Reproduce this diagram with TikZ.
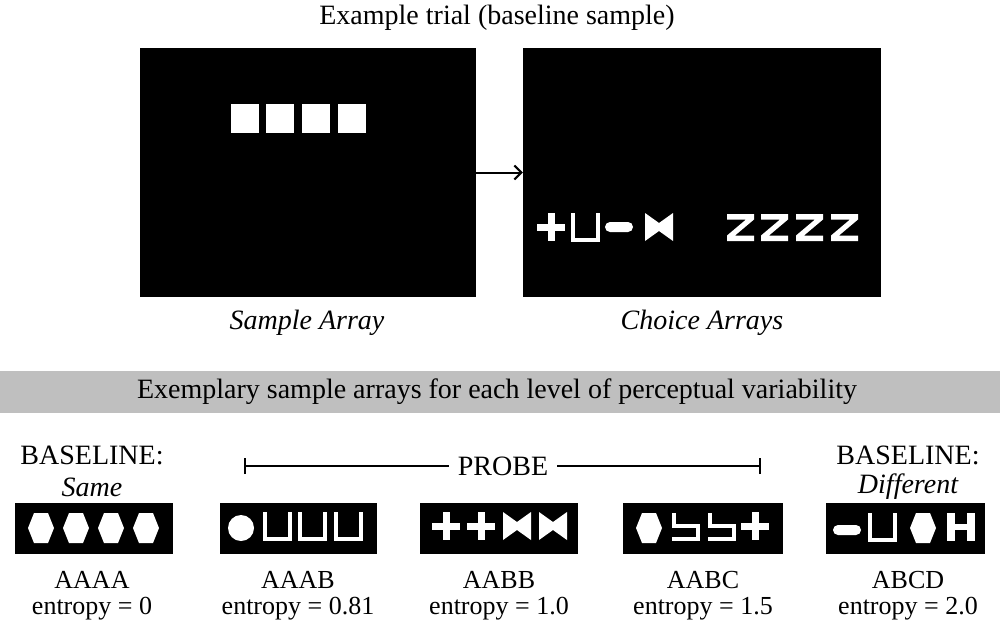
\documentclass[tikz,border=0pt]{standalone}
\usepackage{fontspec}
\setmainfont{Liberation Serif}
\usetikzlibrary{arrows.meta}
\begin{document}
\begin{tikzpicture}[x=1pt,y=-1pt,
  txt/.style={font=\fontsize{28}{32}\selectfont, inner sep=0pt},
  btxt/.style={font=\fontsize{26}{30}\selectfont, inner sep=0pt},
  screen/.style={fill=black, draw=none, inner sep=0pt},
  strip/.style={fill=black, draw=none, inner sep=0pt, minimum height=51pt},
  hexa/.pic={\fill[white] (0,15)--(6,0)--(20,0)--(26,15)--(20,30)--(6,30)--cycle;},
  plusg/.pic={\fill[white] (0,10.5) rectangle (28,17.5); \fill[white] (10.5,0) rectangle (17.5,28);},
  ug/.pic={\draw[white,line width=4pt] (2,0)--(2,27)--(27,27)--(27,0);},
  pill/.pic={\fill[white,rounded corners=5pt] (0,0) rectangle (28,10);},
  bow/.pic={\fill[white] (0,0)--(14,10)--(28,0)--(28,28)--(14,18)--(0,28)--cycle;},
  zg/.pic={\fill[white] (0,0)--(27,0)--(27,5.5)--(8,21.5)--(27,21.5)--(27,27)--(0,27)--(0,21.5)--(19,5.5)--(0,5.5)--cycle;},
  fiveg/.pic={\draw[white,line width=4pt] (2,0)--(2,13)--(26,13)--(26,26)--(0,26);},
  hg/.pic={\fill[white] (0,0) rectangle (8,28); \fill[white] (20,0) rectangle (28,28); \fill[white] (8,11) rectangle (20,17);},
  circg/.pic={\fill[white] (13,13) circle (13);}
]
\useasboundingbox (0,0) rectangle (1000,629);
\fill[white] (0,0) rectangle (1000,629);

% title
\node[txt] (title) at (497,18) {Example trial (baseline sample)};

% screens
\node[screen, minimum width=336pt, minimum height=249pt] (sample) at (308,172.5) {};
\node[screen, minimum width=358pt, minimum height=249pt] (choice) at (702,172.5) {};
\draw[-{Straight Barb[length=7pt,width=14pt]}, line width=2pt] (sample) -- (choice);

% sample squares
\foreach \x in {231,266,302,338} \fill[white] (\x,104) rectangle ++(28,29);

% choice arrays
\pic at (537,213) {plusg};
\pic at (571,213) {ug};
\pic at (605,222) {pill};
\pic at (645,213) {bow};
\foreach \x in {727,761,796,831} \pic at (\x,214) {zg};

\node[txt] (lsample) at (307,323) {\itshape Sample Array};
\node[txt] (lchoice) at (702,323) {\itshape Choice Arrays};

% gray band
\fill[black!25] (0,371) rectangle (1000,413);
\node[txt] (band) at (497,392) {Exemplary sample arrays for each level of perceptual variability};

% baseline labels
\node[txt] (bl1) at (92,455) {BASELINE:};
\node[txt] (bl1s) at (92,487) {\itshape Same};
\node[txt] (bl2) at (908,455) {BASELINE:};
\node[txt] (bl2s) at (908,487) {\itshape Different};

% probe bracket
\coordinate (pl) at (245,466);
\coordinate (pr) at (760,466);
\node[txt] (probe) at (503,466) {PROBE};
\draw[line width=2pt] (pl) -- ([xshift=-9pt]probe.west);
\draw[line width=2pt] ([xshift=9pt]probe.east) -- (pr);
\draw[line width=2pt] ([yshift=-8pt]pl) -- ([yshift=8pt]pl);
\draw[line width=2pt] ([yshift=-8pt]pr) -- ([yshift=8pt]pr);

% strips
\node[strip, minimum width=158pt] (s1) at (94,528.5) {};
\node[strip, minimum width=157pt] (s2) at (298.5,528.5) {};
\node[strip, minimum width=158pt] (s3) at (499,528.5) {};
\node[strip, minimum width=160pt] (s4) at (703,528.5) {};
\node[strip, minimum width=159pt] (s5) at (905.5,528.5) {};

\foreach \x in {28,63,98,133} \pic at (\x,513) {hexa};

\pic at (228,515) {circg};
\foreach \x in {263,298,334} \pic at (\x,512) {ug};

\pic at (432,512) {plusg};
\pic at (467,512) {plusg};
\pic at (503,512) {bow};
\pic at (539,512) {bow};

\pic at (636,513) {hexa};
\pic at (672,513) {fiveg};
\pic at (708,513) {fiveg};
\pic at (741,512) {plusg};

\pic at (833,525) {pill};
\pic at (868,513) {ug};
\pic at (910,513) {hexa};
\pic at (947,513) {hg};

% bottom labels
\node[btxt] (a1) at (92,580) {AAAA};
\node[btxt] (e1) at (92,609) {entropy = 0};
\node[btxt] (a2) at (298,580) {AAAB};
\node[btxt] (e2) at (298,609) {entropy = 0.81};
\node[btxt] (a3) at (499,580) {AABB};
\node[btxt] (e3) at (499,609) {entropy = 1.0};
\node[btxt] (a4) at (703,580) {AABC};
\node[btxt] (e4) at (703,609) {entropy = 1.5};
\node[btxt] (a5) at (908,580) {ABCD};
\node[btxt] (e5) at (908,609) {entropy = 2.0};
\end{tikzpicture}
\end{document}
